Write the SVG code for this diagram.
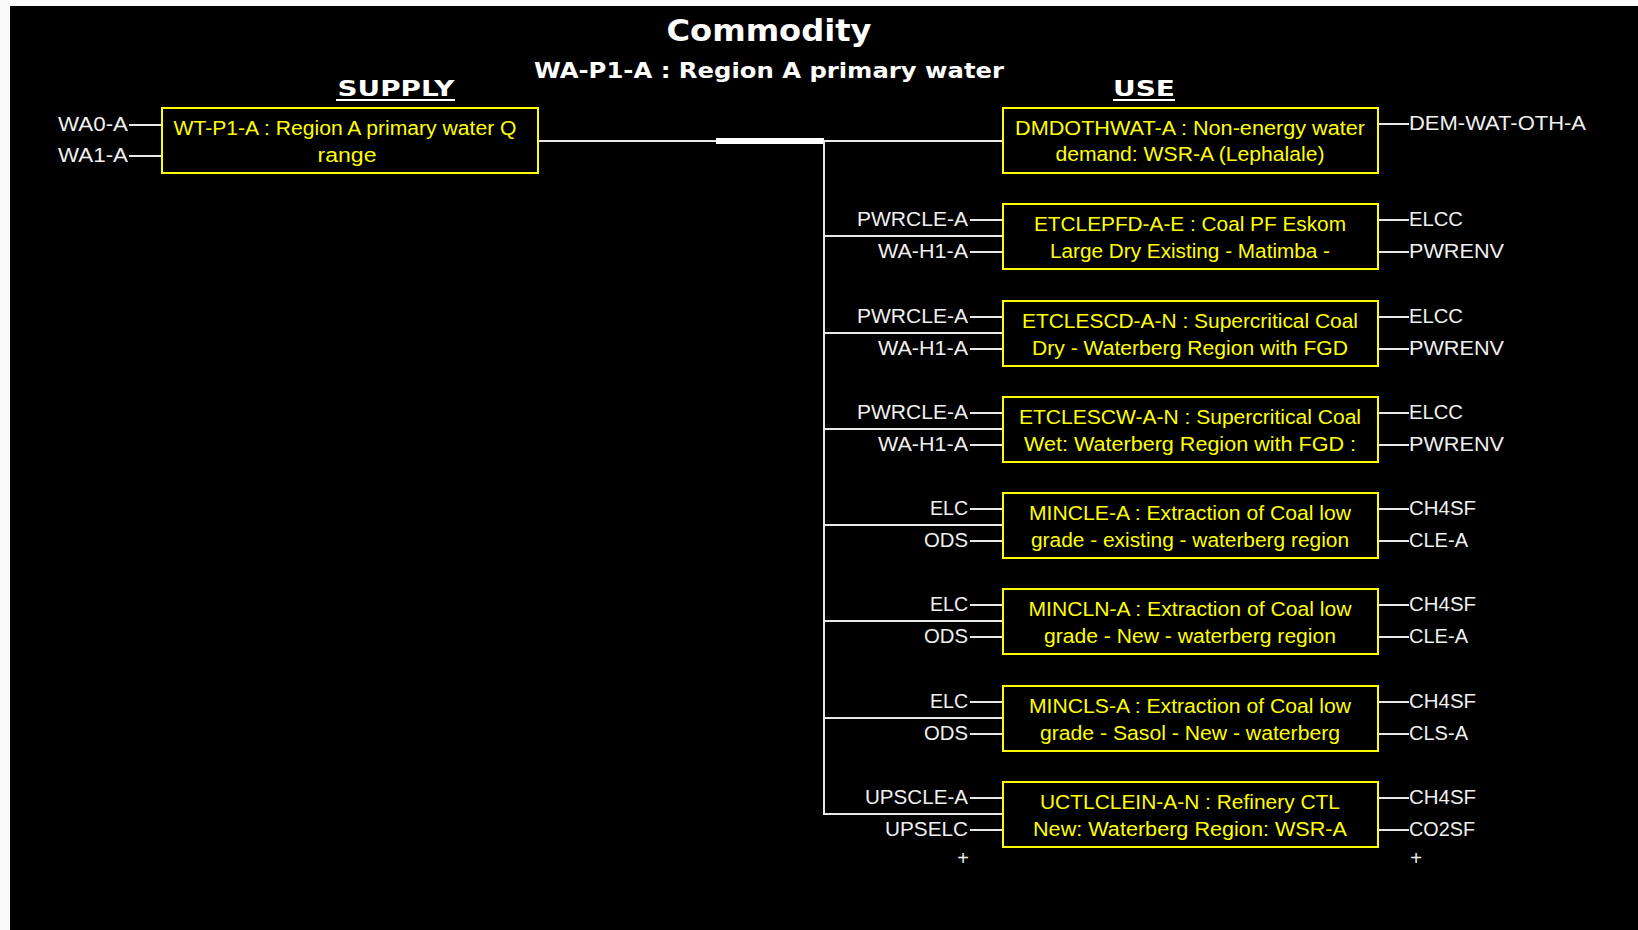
<svg xmlns="http://www.w3.org/2000/svg" width="1638" height="930" viewBox="0 0 1638 930">
<style>
.bg{fill:#000}
.box{fill:none;stroke:#ffff00;stroke-width:2}
.bt{font-family:"Liberation Sans",Arial,sans-serif;font-size:20px;fill:#ffff00;text-anchor:middle}
.lb{font-family:"Liberation Sans",Arial,sans-serif;font-size:20px;fill:#f0f0f0}
.ll{text-anchor:end}
.ln{stroke:#e8e8e8;stroke-width:2;fill:none}
.hd{font-family:"DejaVu Sans",Verdana,sans-serif;fill:#ffffff;text-anchor:middle;font-weight:bold}
</style>
<rect x="0" y="0" width="1638" height="930" fill="#fafafa"/>
<rect class="bg" x="10" y="6" width="1628" height="924"/>

<g id="title">
<text class="hd" x="769" y="41" font-size="31" textLength="205" lengthAdjust="spacingAndGlyphs">Commodity</text>
<text class="hd" x="769" y="78" font-size="22" textLength="470" lengthAdjust="spacingAndGlyphs">WA-P1-A : Region A primary water</text>
<text class="hd" x="396" y="96" font-size="22" textLength="117" lengthAdjust="spacingAndGlyphs">SUPPLY</text>
<line x1="336" y1="100" x2="455" y2="100" stroke="#fff" stroke-width="2"/>
<text class="hd" x="1144" y="96" font-size="22" textLength="62" lengthAdjust="spacingAndGlyphs">USE</text>
<line x1="1113" y1="100" x2="1175" y2="100" stroke="#fff" stroke-width="2"/>
</g>

<g id="connectors">
<line class="ln" x1="129" y1="125" x2="162" y2="125"/>
<line class="ln" x1="129" y1="156" x2="162" y2="156"/>
<line class="ln" x1="538" y1="141" x2="1003" y2="141"/>
<rect x="716" y="138" width="108" height="6" fill="#ffffff"/>
<line class="ln" x1="824" y1="140" x2="824" y2="815"/>
<line class="ln" x1="824" y1="236" x2="1003" y2="236"/>
<line class="ln" x1="824" y1="333" x2="1003" y2="333"/>
<line class="ln" x1="824" y1="429" x2="1003" y2="429"/>
<line class="ln" x1="824" y1="525" x2="1003" y2="525"/>
<line class="ln" x1="824" y1="621" x2="1003" y2="621"/>
<line class="ln" x1="824" y1="718" x2="1003" y2="718"/>
<line class="ln" x1="824" y1="814" x2="1003" y2="814"/>
<line class="ln" x1="970" y1="220" x2="1003" y2="220"/>
<line class="ln" x1="970" y1="252" x2="1003" y2="252"/>
<line class="ln" x1="970" y1="317" x2="1003" y2="317"/>
<line class="ln" x1="970" y1="349" x2="1003" y2="349"/>
<line class="ln" x1="970" y1="413" x2="1003" y2="413"/>
<line class="ln" x1="970" y1="445" x2="1003" y2="445"/>
<line class="ln" x1="970" y1="509" x2="1003" y2="509"/>
<line class="ln" x1="970" y1="541" x2="1003" y2="541"/>
<line class="ln" x1="970" y1="605" x2="1003" y2="605"/>
<line class="ln" x1="970" y1="637" x2="1003" y2="637"/>
<line class="ln" x1="970" y1="702" x2="1003" y2="702"/>
<line class="ln" x1="970" y1="734" x2="1003" y2="734"/>
<line class="ln" x1="970" y1="798" x2="1003" y2="798"/>
<line class="ln" x1="970" y1="830" x2="1003" y2="830"/>
<line class="ln" x1="1378" y1="124" x2="1409" y2="124"/>
<line class="ln" x1="1378" y1="220" x2="1409" y2="220"/>
<line class="ln" x1="1378" y1="252" x2="1409" y2="252"/>
<line class="ln" x1="1378" y1="317" x2="1409" y2="317"/>
<line class="ln" x1="1378" y1="349" x2="1409" y2="349"/>
<line class="ln" x1="1378" y1="413" x2="1409" y2="413"/>
<line class="ln" x1="1378" y1="445" x2="1409" y2="445"/>
<line class="ln" x1="1378" y1="509" x2="1409" y2="509"/>
<line class="ln" x1="1378" y1="541" x2="1409" y2="541"/>
<line class="ln" x1="1378" y1="605" x2="1409" y2="605"/>
<line class="ln" x1="1378" y1="637" x2="1409" y2="637"/>
<line class="ln" x1="1378" y1="702" x2="1409" y2="702"/>
<line class="ln" x1="1378" y1="734" x2="1409" y2="734"/>
<line class="ln" x1="1378" y1="798" x2="1409" y2="798"/>
<line class="ln" x1="1378" y1="830" x2="1409" y2="830"/>
</g>

<g id="supply-WT-P1-A">
<rect class="box" x="162" y="108" width="376" height="65"/>
<text class="bt" x="345" y="135" textLength="343" lengthAdjust="spacingAndGlyphs">WT-P1-A : Region A primary water Q</text>
<text class="bt" x="347" y="162" textLength="59" lengthAdjust="spacingAndGlyphs">range</text>
<text class="lb ll" x="128" y="131" textLength="70" lengthAdjust="spacingAndGlyphs">WA0-A</text>
<text class="lb ll" x="128" y="162" textLength="70" lengthAdjust="spacingAndGlyphs">WA1-A</text>
</g>

<g id="use-DMDOTHWAT-A">
<rect class="box" x="1003" y="108" width="375" height="65"/>
<text class="bt" x="1190" y="135" textLength="350" lengthAdjust="spacingAndGlyphs">DMDOTHWAT-A : Non-energy water</text>
<text class="bt" x="1190" y="161" textLength="269" lengthAdjust="spacingAndGlyphs">demand: WSR-A (Lephalale)</text>
<text class="lb" x="1409" y="130" textLength="177" lengthAdjust="spacingAndGlyphs">DEM-WAT-OTH-A</text>
</g>

<g id="use-ETCLEPFD-A-E">
<rect class="box" x="1003" y="204" width="375" height="65"/>
<text class="bt" x="1190" y="231" textLength="312" lengthAdjust="spacingAndGlyphs">ETCLEPFD-A-E : Coal PF Eskom</text>
<text class="bt" x="1190" y="258" textLength="280" lengthAdjust="spacingAndGlyphs">Large Dry Existing - Matimba -</text>
<text class="lb ll" x="968" y="226" textLength="111" lengthAdjust="spacingAndGlyphs">PWRCLE-A</text>
<text class="lb ll" x="968" y="258" textLength="90" lengthAdjust="spacingAndGlyphs">WA-H1-A</text>
<text class="lb" x="1409" y="226" textLength="54" lengthAdjust="spacingAndGlyphs">ELCC</text>
<text class="lb" x="1409" y="258" textLength="95" lengthAdjust="spacingAndGlyphs">PWRENV</text>
</g>

<g id="use-ETCLESCD-A-N">
<rect class="box" x="1003" y="301" width="375" height="65"/>
<text class="bt" x="1190" y="328" textLength="336" lengthAdjust="spacingAndGlyphs">ETCLESCD-A-N : Supercritical Coal</text>
<text class="bt" x="1190" y="355" textLength="316" lengthAdjust="spacingAndGlyphs">Dry - Waterberg Region with FGD</text>
<text class="lb ll" x="968" y="323" textLength="111" lengthAdjust="spacingAndGlyphs">PWRCLE-A</text>
<text class="lb ll" x="968" y="355" textLength="90" lengthAdjust="spacingAndGlyphs">WA-H1-A</text>
<text class="lb" x="1409" y="323" textLength="54" lengthAdjust="spacingAndGlyphs">ELCC</text>
<text class="lb" x="1409" y="355" textLength="95" lengthAdjust="spacingAndGlyphs">PWRENV</text>
</g>

<g id="use-ETCLESCW-A-N">
<rect class="box" x="1003" y="397" width="375" height="65"/>
<text class="bt" x="1190" y="424" textLength="342" lengthAdjust="spacingAndGlyphs">ETCLESCW-A-N : Supercritical Coal</text>
<text class="bt" x="1190" y="451" textLength="332" lengthAdjust="spacingAndGlyphs">Wet: Waterberg Region with FGD :</text>
<text class="lb ll" x="968" y="419" textLength="111" lengthAdjust="spacingAndGlyphs">PWRCLE-A</text>
<text class="lb ll" x="968" y="451" textLength="90" lengthAdjust="spacingAndGlyphs">WA-H1-A</text>
<text class="lb" x="1409" y="419" textLength="54" lengthAdjust="spacingAndGlyphs">ELCC</text>
<text class="lb" x="1409" y="451" textLength="95" lengthAdjust="spacingAndGlyphs">PWRENV</text>
</g>

<g id="use-MINCLE-A">
<rect class="box" x="1003" y="493" width="375" height="65"/>
<text class="bt" x="1190" y="520" textLength="322" lengthAdjust="spacingAndGlyphs">MINCLE-A : Extraction of Coal low</text>
<text class="bt" x="1190" y="547" textLength="318" lengthAdjust="spacingAndGlyphs">grade - existing - waterberg region</text>
<text class="lb ll" x="968" y="515" textLength="38" lengthAdjust="spacingAndGlyphs">ELC</text>
<text class="lb ll" x="968" y="547" textLength="44" lengthAdjust="spacingAndGlyphs">ODS</text>
<text class="lb" x="1409" y="515" textLength="67" lengthAdjust="spacingAndGlyphs">CH4SF</text>
<text class="lb" x="1409" y="547" textLength="59" lengthAdjust="spacingAndGlyphs">CLE-A</text>
</g>

<g id="use-MINCLN-A">
<rect class="box" x="1003" y="589" width="375" height="65"/>
<text class="bt" x="1190" y="616" textLength="323" lengthAdjust="spacingAndGlyphs">MINCLN-A : Extraction of Coal low</text>
<text class="bt" x="1190" y="643" textLength="292" lengthAdjust="spacingAndGlyphs">grade - New - waterberg region</text>
<text class="lb ll" x="968" y="611" textLength="38" lengthAdjust="spacingAndGlyphs">ELC</text>
<text class="lb ll" x="968" y="643" textLength="44" lengthAdjust="spacingAndGlyphs">ODS</text>
<text class="lb" x="1409" y="611" textLength="67" lengthAdjust="spacingAndGlyphs">CH4SF</text>
<text class="lb" x="1409" y="643" textLength="59" lengthAdjust="spacingAndGlyphs">CLE-A</text>
</g>

<g id="use-MINCLS-A">
<rect class="box" x="1003" y="686" width="375" height="65"/>
<text class="bt" x="1190" y="713" textLength="322" lengthAdjust="spacingAndGlyphs">MINCLS-A : Extraction of Coal low</text>
<text class="bt" x="1190" y="740" textLength="300" lengthAdjust="spacingAndGlyphs">grade - Sasol - New - waterberg</text>
<text class="lb ll" x="968" y="708" textLength="38" lengthAdjust="spacingAndGlyphs">ELC</text>
<text class="lb ll" x="968" y="740" textLength="44" lengthAdjust="spacingAndGlyphs">ODS</text>
<text class="lb" x="1409" y="708" textLength="67" lengthAdjust="spacingAndGlyphs">CH4SF</text>
<text class="lb" x="1409" y="740" textLength="59" lengthAdjust="spacingAndGlyphs">CLS-A</text>
</g>

<g id="use-UCTLCLEIN-A-N">
<rect class="box" x="1003" y="782" width="375" height="65"/>
<text class="bt" x="1190" y="809" textLength="300" lengthAdjust="spacingAndGlyphs">UCTLCLEIN-A-N : Refinery CTL</text>
<text class="bt" x="1190" y="836" textLength="314" lengthAdjust="spacingAndGlyphs">New: Waterberg Region: WSR-A</text>
<text class="lb ll" x="968" y="804" textLength="103" lengthAdjust="spacingAndGlyphs">UPSCLE-A</text>
<text class="lb ll" x="968" y="836" textLength="83" lengthAdjust="spacingAndGlyphs">UPSELC</text>
<text class="lb" x="1409" y="804" textLength="67" lengthAdjust="spacingAndGlyphs">CH4SF</text>
<text class="lb" x="1409" y="836" textLength="66" lengthAdjust="spacingAndGlyphs">CO2SF</text>
</g>

<g id="more">
<text class="lb" x="963" y="865" text-anchor="middle" font-size="16">+</text>
<text class="lb" x="1416" y="865" text-anchor="middle" font-size="16">+</text>
</g>
</svg>
